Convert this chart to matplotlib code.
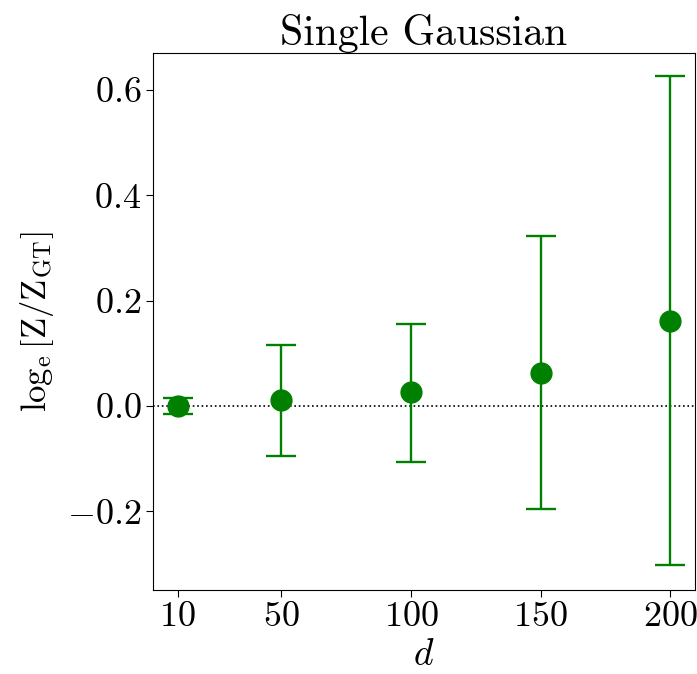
import matplotlib
matplotlib.use("Agg")
import matplotlib.pyplot as plt
from matplotlib.ticker import FuncFormatter

# Data

dims = [10, 50, 100, 150, 200]
log_ratio = [0.000, 0.011, 0.027, 0.063, 0.162]
err_low = [0.015, 0.106, 0.133, 0.259, 0.464]
err_high = [0.015, 0.105, 0.129, 0.260, 0.464]

plt.rcParams["font.family"] = "serif"
plt.rcParams["font.serif"] = ["cmr10"]
plt.rcParams["mathtext.fontset"] = "cm"
plt.rcParams["axes.unicode_minus"] = False

fig = plt.figure(figsize=(6.97, 6.74), dpi=100)
ax = fig.add_axes([0.2195, 0.1246, 0.7775, 0.7968])

ax.axhline(0, color="black", linestyle=":", linewidth=1.2, zorder=1)
ax.errorbar(dims, log_ratio, yerr=[err_low, err_high], fmt="o", color="green",
            markersize=15, elinewidth=1.7, capsize=11, capthick=1.7, zorder=3)

ax.set_xticks(dims)
ax.set_xticklabels([f"${d}$" for d in dims])
ax.set_yticks([-0.2, 0.0, 0.2, 0.4, 0.6])
ax.yaxis.set_major_formatter(FuncFormatter(lambda v, p: f"${v:.1f}$"))
ax.set_ylim(-0.349, 0.67)
ax.tick_params(labelsize=26, length=5)

ax.set_xlabel(r"$d$", fontsize=27, labelpad=4)
ax.set_ylabel(r"$\log_{\mathrm{e}}\left[\mathrm{Z}/\mathrm{Z}_{\mathrm{GT}}\right]$", fontsize=25, labelpad=8)
ax.set_title("Single Gaussian", fontsize=30, pad=5)

fig.savefig("out.png", dpi=100)
